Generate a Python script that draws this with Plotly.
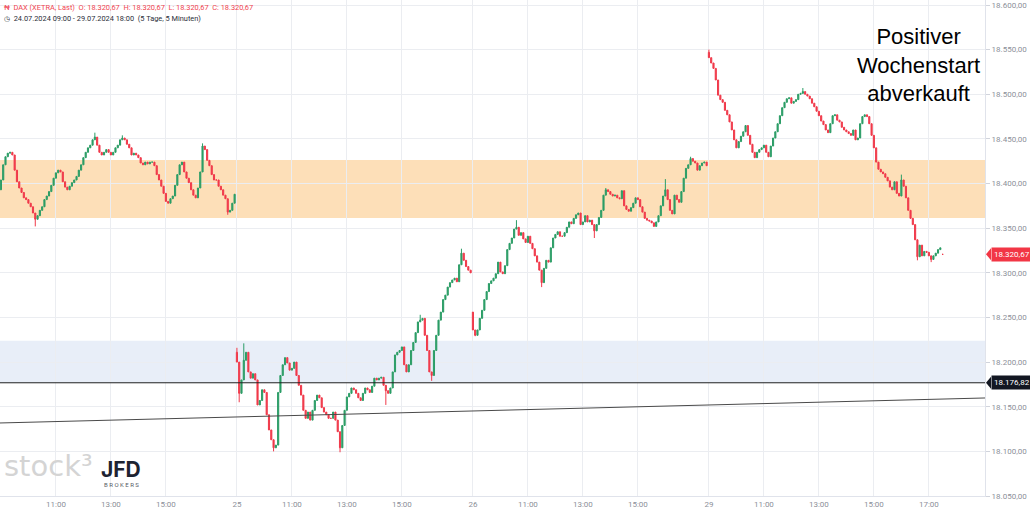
import plotly.graph_objects as go

# ---------------- data ----------------
BARS_PER_DAY = 103            # 09:00 ... 17:30, 5-minute bars
day_labels = ["24", "25", "26", "29"]
day_open = [18393, 18211, 18256, 18547]

close_24 = [18404, 18421, 18430, 18434, 18435, 18432, 18415, 18402, 18395, 18390,
            18384, 18382, 18378, 18374, 18367, 18360, 18364, 18370, 18374, 18382,
            18386, 18391, 18398, 18406, 18412, 18415, 18413, 18402, 18396, 18393,
            18397, 18401, 18404, 18408, 18415, 18421, 18429, 18435, 18440, 18443,
            18449, 18452, 18443, 18435, 18432, 18435, 18438, 18435, 18432, 18435,
            18440, 18443, 18449, 18451, 18449, 18444, 18440, 18432, 18434, 18432,
            18429, 18423, 18421, 18424, 18422, 18424, 18424, 18420, 18410, 18404,
            18397, 18389, 18380, 18378, 18383, 18386, 18398, 18410, 18421, 18424,
            18413, 18406, 18401, 18393, 18387, 18384, 18395, 18413, 18442, 18438,
            18426, 18420, 18410, 18404, 18404, 18397, 18393, 18387, 18383, 18368,
            18370, 18378, 18388]

close_25 = [18200, 18165, 18180, 18202, 18211, 18189, 18182, 18187, 18180, 18152,
            18157, 18169, 18166, 18141, 18124, 18113, 18104, 18107, 18166, 18185,
            18197, 18205, 18199, 18191, 18193, 18200, 18185, 18174, 18163, 18146,
            18137, 18144, 18135, 18146, 18157, 18163, 18160, 18149, 18144, 18141,
            18137, 18137, 18144, 18135, 18122, 18104, 18129, 18146, 18161, 18165,
            18171, 18169, 18165, 18160, 18157, 18165, 18171, 18169, 18166, 18173,
            18182, 18180, 18182, 18183, 18174, 18168, 18165, 18171, 18189, 18208,
            18211, 18213, 18217, 18197, 18189, 18197, 18213, 18222, 18233, 18245,
            18247, 18249, 18230, 18213, 18189, 18185, 18213, 18230, 18247, 18256,
            18270, 18275, 18284, 18289, 18292, 18294, 18290, 18309, 18322, 18314,
            18307, 18303, 18300]

close_26 = [18236, 18230, 18236, 18249, 18258, 18270, 18279, 18288, 18291, 18294,
            18299, 18312, 18301, 18299, 18308, 18326, 18333, 18339, 18349, 18351,
            18342, 18345, 18338, 18334, 18341, 18333, 18327, 18319, 18312, 18303,
            18289, 18305, 18314, 18312, 18328, 18339, 18343, 18346, 18341, 18341,
            18345, 18351, 18357, 18355, 18361, 18365, 18367, 18354, 18357, 18364,
            18357, 18359, 18354, 18347, 18354, 18362, 18370, 18387, 18393, 18391,
            18388, 18386, 18387, 18384, 18383, 18392, 18375, 18371, 18369, 18373,
            18378, 18384, 18382, 18374, 18368, 18361, 18359, 18358, 18356, 18352,
            18357, 18364, 18375, 18386, 18393, 18382, 18370, 18366, 18387, 18382,
            18379, 18391, 18406, 18417, 18421, 18428, 18425, 18423, 18415, 18420,
            18423, 18424, 18420]

close_29 = [18541, 18535, 18529, 18516, 18499, 18494, 18491, 18482, 18477, 18469,
            18460, 18449, 18440, 18447, 18453, 18458, 18465, 18454, 18444, 18435,
            18429, 18435, 18438, 18440, 18443, 18435, 18430, 18442, 18451, 18458,
            18467, 18476, 18485, 18491, 18495, 18496, 18490, 18492, 18494, 18500,
            18501, 18503, 18500, 18498, 18495, 18490, 18486, 18481, 18476, 18470,
            18466, 18460, 18457, 18467, 18476, 18477, 18471, 18469, 18463, 18460,
            18458, 18456, 18454, 18460, 18449, 18451, 18467, 18475, 18477, 18475,
            18467, 18454, 18440, 18424, 18416, 18413, 18411, 18407, 18403, 18396,
            18393, 18402, 18389, 18386, 18404, 18397, 18384, 18370, 18361, 18354,
            18337, 18318, 18331, 18319, 18324, 18323, 18319, 18315, 18319, 18322,
            18326, 18328, 18320.67]

last_ohlc = [18320.67, 18320.67, 18320.67, 18320.67]

# notable wick extremes (bar index -> price)
wick_high = {41: 18457, 53: 18454, 88: 18445, 103: 18216, 106: 18221, 183: 18253,
             201: 18327, 225: 18359, 264: 18395, 290: 18405, 301: 18430,
             309: 18550, 350: 18507, 393: 18410}
wick_low = {15: 18352, 99: 18365, 104: 18155, 119: 18100, 148: 18099, 168: 18152,
            188: 18179, 207: 18229, 236: 18284, 259: 18339, 400: 18314, 406: 18312}

orange_zone = (18361.4, 18426.4)
blue_zone = (18176.82, 18224.0)
support_level = 18176.82
trend_line = (18131.8, 18159.8)   # price at left edge, price at right edge

y_ticks = list(range(18050, 18601, 50))
x_tick_hours = [11, 13, 15]
last_day_extra_hour = 17

# ---------------- build OHLC ----------------
closes_by_day = [close_24, close_25, close_26, close_29]
X, O, H, L, C = [], [], [], [], []
for d, closes in enumerate(closes_by_day):
    prev = day_open[d]
    for k, c in enumerate(closes):
        i = d * BARS_PER_DAY + k
        o = prev
        hi = max(o, c, wick_high.get(i, o))
        lo = min(o, c, wick_low.get(i, o))
        X.append(i); O.append(o); H.append(hi); L.append(lo); C.append(c)
        prev = c
O[-1], H[-1], L[-1], C[-1] = last_ohlc


def de(v):
    s = f"{v:,.2f}"
    return s.replace(",", "X").replace(".", ",").replace("X", ".")


# ---------------- ticks ----------------
tickvals, ticktext = [], []
for d, lab in enumerate(day_labels):
    base = d * BARS_PER_DAY
    if d > 0:
        tickvals.append(base); ticktext.append(lab)
    hours = x_tick_hours + ([last_day_extra_hour] if d == len(day_labels) - 1 else [])
    for h in hours:
        tickvals.append(base + (h - 9) * 12); ticktext.append(f"{h}:00")

GREEN = "#2b9d66"
RED = "#f0394a"

fig = go.Figure(go.Candlestick(
    x=X, open=O, high=H, low=L, close=C,
    increasing=dict(line=dict(color=GREEN, width=1), fillcolor=GREEN),
    decreasing=dict(line=dict(color=RED, width=1), fillcolor=RED),
    whiskerwidth=0, hoverinfo="skip", showlegend=False,
))

x_range = [-0.4, 429.5]
shapes = [
    dict(type="rect", xref="paper", x0=0, x1=1, yref="y", y0=orange_zone[0], y1=orange_zone[1],
         fillcolor="rgba(251,196,125,0.55)", line=dict(width=0), layer="below"),
    dict(type="rect", xref="paper", x0=0, x1=1, yref="y", y0=blue_zone[0], y1=blue_zone[1],
         fillcolor="rgba(210,222,242,0.5)", line=dict(width=0), layer="below"),
    dict(type="line", xref="paper", x0=0, x1=1, yref="y", y0=support_level, y1=support_level,
         line=dict(color="#202020", width=1)),
    dict(type="line", xref="paper", x0=0, x1=1, yref="y", y0=trend_line[0], y1=trend_line[1],
         line=dict(color="#4a4a4a", width=1)),
    # price tag arrows
    dict(type="path", xref="paper", xsizemode="pixel", xanchor=1, yref="y", ysizemode="pixel",
         yanchor=last_ohlc[3], path="M 1,0 L 6,6 L 6,-6 Z", fillcolor="#f23645", line=dict(width=0)),
    dict(type="path", xref="paper", xsizemode="pixel", xanchor=1, yref="y", ysizemode="pixel",
         yanchor=support_level, path="M 1,0 L 6,6 L 6,-6 Z", fillcolor="#131722", line=dict(width=0)),
]

NB = "\u00a0"
hdr1 = (f"₦{NB}{NB}DAX (XETRA, Last){NB}{NB}O:{NB}{de(last_ohlc[0])}{NB}{NB}H:{NB}{de(last_ohlc[1])}"
        f"{NB}{NB}L:{NB}{de(last_ohlc[2])}{NB}{NB}C:{NB}{de(last_ohlc[3])}")
hdr2 = f"◷{NB}{NB}24.07.2024 09:00 - 29.07.2024 18:00{NB}{NB}(5 Tage, 5 Minuten)"

annotations = [
    dict(xref="paper", yref="paper", x=0, y=1, xanchor="left", yanchor="top", xshift=2, yshift=-1,
         text=hdr1, showarrow=False, font=dict(family="Roboto", size=7.4, color="#f0434f")),
    dict(xref="paper", yref="paper", x=0, y=1, xanchor="left", yanchor="top", xshift=2, yshift=-12,
         text=hdr2, showarrow=False, font=dict(family="Roboto", size=7.4, color="#2a2e39")),
    dict(xref="paper", yref="paper", x=918 / 985, y=1 - 65 / 496, xanchor="center", yanchor="middle",
         text="Positiver<br>Wochenstart<br>abverkauft", showarrow=False, align="center",
         font=dict(family="Liberation Sans", size=22, color="#000000")),
    dict(xref="paper", yref="y", x=1, y=last_ohlc[3], xanchor="left", yanchor="middle", xshift=6,
         text=de(last_ohlc[3]), showarrow=False, bgcolor="#f23645", borderpad=2,
         font=dict(family="Roboto", size=8, color="#ffffff")),
    dict(xref="paper", yref="y", x=1, y=support_level, xanchor="left", yanchor="middle", xshift=6,
         text=de(support_level), showarrow=False, bgcolor="#131722", borderpad=2,
         font=dict(family="Roboto", size=8, color="#ffffff")),
    # watermark
    dict(xref="paper", yref="paper", x=2 / 985, y=1 - 466 / 496, xanchor="left", yanchor="middle",
         text="stock³", showarrow=False, font=dict(family="DejaVu Sans", size=29, color="#d4d4d4")),
    dict(xref="paper", yref="paper", x=121 / 985, y=1 - 469 / 496, xanchor="center", yanchor="middle",
         text="<b>JFD</b>", showarrow=False, font=dict(family="Inter", size=21, color="#1d2331")),
    dict(xref="paper", yref="paper", x=121 / 985, y=1 - 484 / 496, xanchor="center", yanchor="middle",
         text="B R O K E R S", showarrow=False, font=dict(family="Roboto", size=6, color="#555a66")),
]

fig.update_layout(
    width=1030, height=510,
    margin=dict(l=0, r=45, t=0, b=14),
    paper_bgcolor="#ffffff", plot_bgcolor="#ffffff",
    shapes=shapes, annotations=annotations,
    xaxis=dict(range=x_range, type="linear", tickvals=tickvals, ticktext=ticktext,
               showgrid=True, gridcolor="#ebedf1", gridwidth=1, zeroline=False,
               showline=True, linecolor="#e0e3eb", linewidth=1,
               tickfont=dict(family="Roboto", size=8, color="#8c8f99"),
               rangeslider=dict(visible=False), ticks=""),
    yaxis=dict(range=[18050, 18605.6], side="right", tickvals=y_ticks,
               ticktext=[de(v) for v in y_ticks],
               showgrid=True, gridcolor="#ebedf1", gridwidth=1, zeroline=False,
               showline=True, linecolor="#e0e3eb", linewidth=1,
               ticks="outside", ticklen=4, tickcolor="#d1d4dc",
               tickfont=dict(family="Roboto", size=8, color="#8c8f99")),
)

fig.write_html("out.html")
